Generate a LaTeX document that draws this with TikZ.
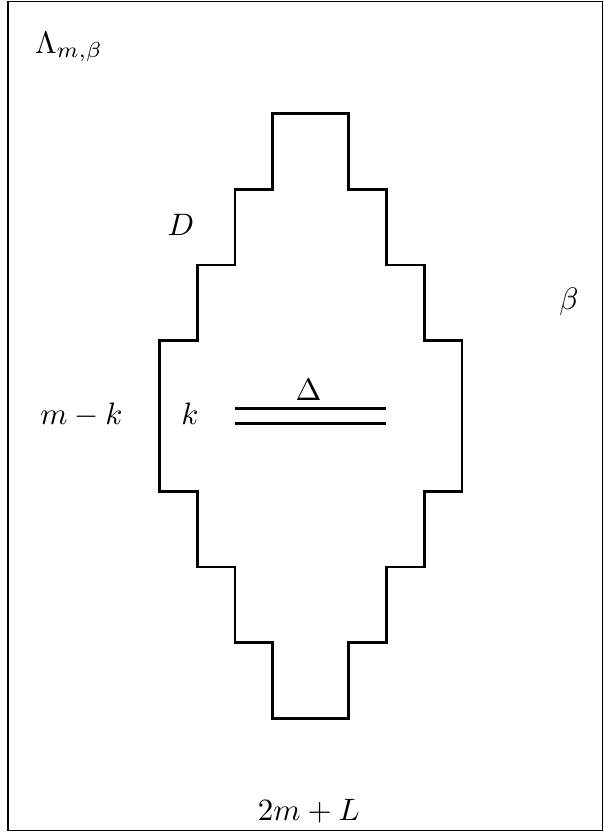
\documentclass[tikz,border=0pt]{standalone}
\begin{document}
\begin{tikzpicture}[x=0.3226pt,y=-0.3226pt,
  lbl/.style={inner sep=0pt,anchor=base},
  frame/.style={line width=0.5pt},
  wall/.style={line width=0.95pt,line join=miter}]
\useasboundingbox (0,0) rectangle (604,835);
\draw[frame] (8,1.5) rectangle (602.5,830.5);
\draw[wall] (272.7,113.7) -- (348.7,113.7) -- (348.7,189.3) -- (386.5,189.3) -- (386.5,265) -- (424.2,265) -- (424.2,340.5) -- (462,340.5) -- (462,491.3) -- (424.2,491.3) -- (424.2,567) -- (386.5,567) -- (386.5,642.7) -- (348.7,642.7) -- (348.7,718.3) -- (272.7,718.3) -- (272.7,642.7) -- (235,642.7) -- (235,567) -- (197.3,567) -- (197.3,491.3) -- (159.5,491.3) -- (159.5,340.5) -- (197.3,340.5) -- (197.3,265) -- (235,265) -- (235,189.3) -- (272.7,189.3) -- cycle;
\coordinate (a1) at (235,408.3);
\coordinate (a2) at (386,408.3);
\coordinate (b1) at (235,423.3);
\coordinate (b2) at (386,423.3);
\draw[wall] (a1) -- (a2);
\draw[wall] (b1) -- (b2);
\node[lbl] (lam) at (69,53) {$\Lambda_{m,\beta}$};
\node[lbl] (D) at (181,235) {$D$};
\node[lbl] (beta) at (569,309) {$\beta$};
\node[lbl] (mk) at (81.5,424) {$m-k$};
\node[lbl] (k) at (190,424) {$k$};
\node[lbl] (Delta) at (308.5,400) {$\Delta$};
\node[lbl] (bot) at (308.8,820) {$2m+L$};
\end{tikzpicture}
\end{document}
